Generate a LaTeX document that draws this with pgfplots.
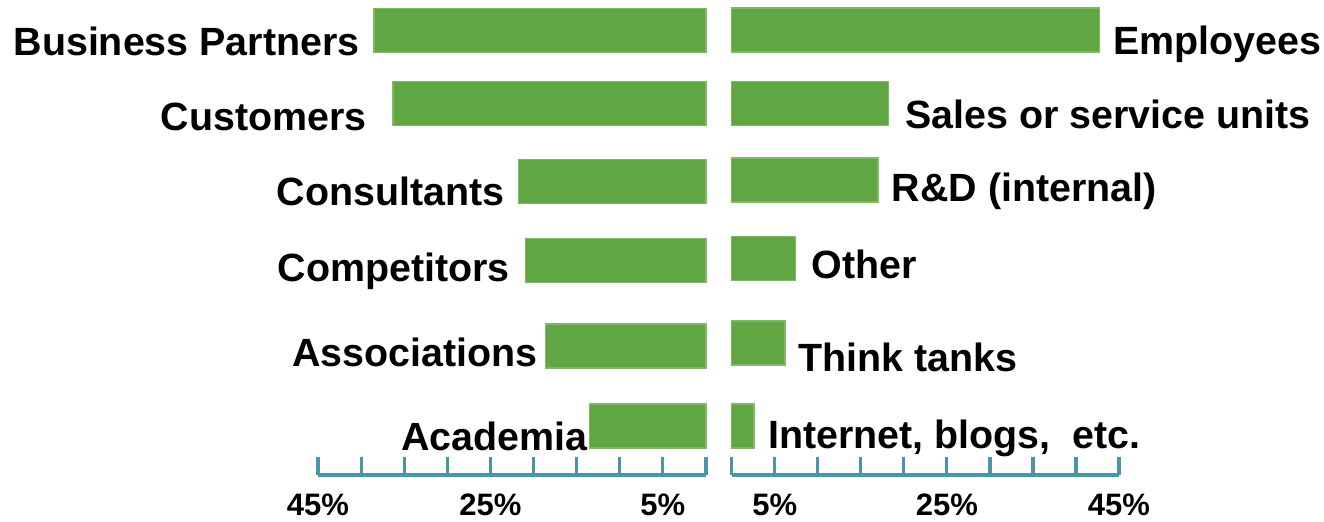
\documentclass[border=0pt]{standalone}
\usepackage{fontspec}
\setmainfont{Liberation Sans}
\usepackage{pgfplots}
\pgfplotsset{compat=1.18}
\definecolor{barGreen}{RGB}{96,166,66}
\definecolor{axTeal}{RGB}{74,150,168}
\pgfplotsset{
  halfaxis/.style={
    scale only axis, height=237.5pt,
    xmin=0, xmax=45, ymin=46, ymax=521,
    axis x line=bottom, axis y line=none,
    x axis line style={-, line width=2.3pt, color=axTeal},
    xtick align=inside,
    xtick={5,25,45}, minor xtick={0,10,15,20,30,35,40},
    xticklabels={5\%,25\%,45\%},
    major tick length=9pt, minor tick length=9pt,
    every tick/.style={line width=1.6pt, color=axTeal},
    xticklabel style={font=\fontsize{15.5}{18}\selectfont\bfseries, text=black, yshift=-6pt},
    clip=false,
    xbar, bar width=22pt,
  },
  greenbar/.style={fill=barGreen, draw=barGreen!80!white, line width=0.6pt},
}
\tikzset{lab/.style={font=\fontsize{19.7}{22}\selectfont\bfseries, inner sep=0pt}}
\begin{document}
\begin{tikzpicture}
\path[use as bounding box] (0,0) rectangle (662pt,260.5pt);
% left half
\begin{axis}[halfaxis, x dir=reverse, width=194pt, at={(159pt,23pt)}, anchor=south west]
\addplot[greenbar] coordinates {(38.5,490.5) (36.3,417.2) (21.7,339.3) (20.9,260.5) (18.6,175) (13.5,95)};
\node[lab, anchor=base east] at (axis cs:40.13,466) {Business Partners};
\node[lab, anchor=base east] at (axis cs:39.32,391) {Customers};
\node[lab, anchor=base east] at (axis cs:23.31,316) {Consultants};
\node[lab, anchor=base east] at (axis cs:22.73,239.3) {Competitors};
\node[lab, anchor=base east] at (axis cs:19.48,154.3) {Associations};
\node[lab, anchor=base east] at (axis cs:13.69,70.3) {Academia};
\end{axis}
% right half
\begin{axis}[halfaxis, width=193.65pt, at={(365.85pt,23pt)}, anchor=south west]
\addplot[greenbar] coordinates {(42.7,491) (18.2,417.2) (17.0,341) (7.4,262.2) (6.2,178) (2.6,95)};
\node[lab, anchor=base west] at (axis cs:44.30,466.7) {Employees};
\node[lab, anchor=base west] at (axis cs:20.12,393) {Sales or service units};
\node[lab, anchor=base west] at (axis cs:18.57,319.3) {R\&D (internal)};
\node[lab, anchor=base west] at (axis cs:9.27,243) {Other};
\node[lab, anchor=base west] at (axis cs:7.67,149.3) {Think tanks};
\node[lab, anchor=base west] at (axis cs:4.19,73) {Internet, blogs,\ \ etc.};
\end{axis}
\end{tikzpicture}
\end{document}
